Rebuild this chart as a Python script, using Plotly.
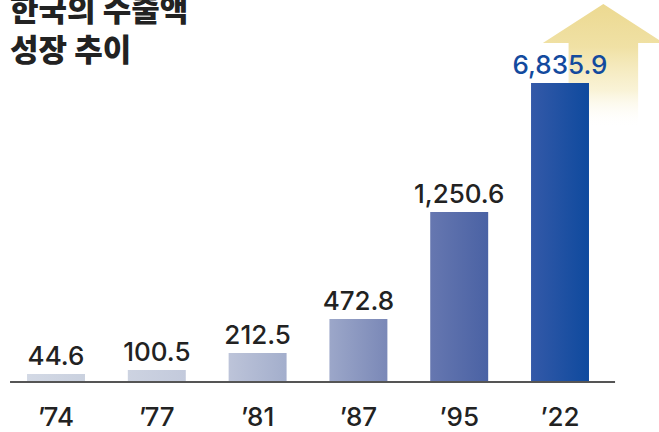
import plotly.graph_objects as go

# ---- data ----
years = ["’74", "’77", "’81", "’87", "’95", "’22"]
export_values = [44.6, 100.5, 212.5, 472.8, 1250.6, 6835.9]
# visual bar heights as drawn in the infographic (axis is not linear)
bar_heights = [8, 12, 29, 63, 170, 299]
bar_left_colors = ["#D3D9E5", "#CDD3E1", "#BDC4D9", "#9CA7C9", "#6677B0", "#3459A8"]
bar_right_colors = ["#CAD1DF", "#C3CADC", "#A3AECC", "#7A88B7", "#4A62A4", "#0E4A9E"]
label_colors = ["#222222"] * 5 + ["#134A9E"]
title_text = "한국의 수출액<br>성장 추이"

W, H = 659, 432
bar_w = 0.575
label_pad = 3

fig = go.Figure()

# decorative arrow behind the last bar (relative to the last bar)
last = len(years) - 1
ax_c = last + 0.43
h_last = bar_heights[-1]
tip = h_last + 79
head_base = h_last + 40
shaft_bot = h_last - 45
hw, sw = 0.60, 0.345
fig.add_trace(go.Scatter(
    x=[ax_c - sw, ax_c - sw, ax_c - hw, ax_c, ax_c + hw, ax_c + sw, ax_c + sw, ax_c - sw],
    y=[shaft_bot, head_base, head_base, tip, head_base, head_base, shaft_bot, shaft_bot],
    mode="lines", fill="toself", line=dict(width=0, color="rgba(0,0,0,0)"),
    fillgradient=dict(type="vertical",
                      colorscale=[[0, "rgba(255,255,255,0)"], [0.3, "rgba(248,240,205,0.8)"],
                                  [0.65, "rgba(240,225,165,1)"], [1, "rgba(236,217,145,1)"]]),
    hoverinfo="skip", showlegend=False,
))

# bars with horizontal gradient
for i, h in enumerate(bar_heights):
    fig.add_trace(go.Scatter(
        x=[i - bar_w / 2, i + bar_w / 2, i + bar_w / 2, i - bar_w / 2, i - bar_w / 2],
        y=[0, 0, h, h, 0],
        mode="lines", fill="toself", line=dict(width=0, color="rgba(0,0,0,0)"),
        fillgradient=dict(type="horizontal",
                          colorscale=[[0, bar_left_colors[i]], [1, bar_right_colors[i]]]),
        hoverinfo="skip", showlegend=False,
    ))

# value labels
fig.add_trace(go.Scatter(
    x=list(range(len(years))), y=[h + label_pad for h in bar_heights], mode="text",
    text=[f"{v:,.1f}" for v in export_values],
    textposition="top center",
    textfont=dict(family="Inter", size=26, color=label_colors, weight=500),
    hoverinfo="skip", showlegend=False, cliponaxis=False,
))

# baseline
fig.add_shape(type="line", xref="x", yref="y", x0=-0.456, x1=5.546, y0=0, y1=0,
              line=dict(color="#555555", width=2))

fig.add_annotation(
    text=title_text, xref="paper", yref="paper", x=8 / W, y=(386 - 27) / 386,
    xanchor="left", yanchor="middle", align="left", showarrow=False,
    font=dict(family="Noto Sans CJK KR", size=31, color="#222222", weight=900),
)

fig.update_layout(
    width=W, height=H,
    margin=dict(l=0, r=0, t=0, b=46),
    paper_bgcolor="white", plot_bgcolor="white",
    xaxis=dict(range=[-0.5556, 5.982], tickvals=list(range(len(years))), ticktext=years,
               showgrid=False, zeroline=False, showline=False,
               ticks="outside", ticklen=8, tickcolor="rgba(0,0,0,0)",
               tickfont=dict(family="Inter", size=26, color="#222222", weight=500),
               fixedrange=True),
    yaxis=dict(range=[-4, 382], visible=False, showgrid=False, zeroline=False, fixedrange=True),
    showlegend=False,
)

fig.write_html("out.html", config={"displayModeBar": False},
               post_script="document.body.style.margin='0';")
